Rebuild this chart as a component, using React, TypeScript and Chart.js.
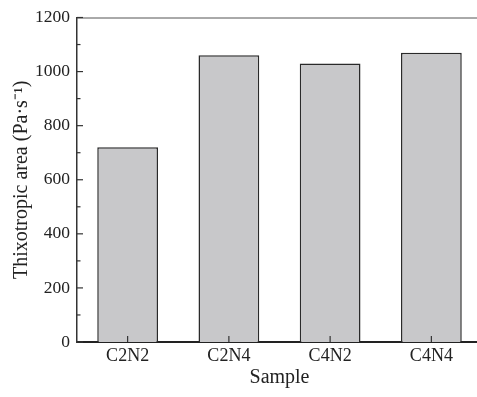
import React, { useEffect, useRef } from "react";
import { Chart, registerables } from "chart.js";

Chart.register(...registerables);

const categories = ["C2N2", "C2N4", "C4N2", "C4N4"];
const thixotropicArea = [720, 1060, 1030, 1070];
const yMin = 0;
const yMax = 1200;
const yStep = 200;

const FONT = "'Liberation Serif', 'Times New Roman', serif";

const framePlugin = {
  id: "frame",
  afterDraw(chart: any) {
    const { ctx, chartArea } = chart;
    const x = chart.scales.x;
    const y = chart.scales.y;
    ctx.save();
    ctx.strokeStyle = "#555";
    ctx.lineWidth = 1;
    ctx.beginPath();
    ctx.moveTo(chartArea.left, chartArea.top + 0.5);
    ctx.lineTo(chartArea.right, chartArea.top + 0.5);
    ctx.stroke();
    ctx.strokeStyle = "#333";
    ctx.lineWidth = 1.2;
    const ticks = y.ticks;
    for (let i = 0; i < ticks.length; i++) {
      const py = y.getPixelForValue(ticks[i].value);
      ctx.beginPath();
      ctx.moveTo(chartArea.left, py);
      ctx.lineTo(chartArea.left + 6, py);
      ctx.stroke();
      if (i < ticks.length - 1) {
        const pm = y.getPixelForValue((ticks[i].value + ticks[i + 1].value) / 2);
        ctx.beginPath();
        ctx.moveTo(chartArea.left, pm);
        ctx.lineTo(chartArea.left + 3.5, pm);
        ctx.stroke();
      }
    }
    for (let i = 0; i < categories.length; i++) {
      const px = x.getPixelForTick(i);
      ctx.beginPath();
      ctx.moveTo(px, chartArea.bottom);
      ctx.lineTo(px, chartArea.bottom - 6);
      ctx.stroke();
    }
    ctx.restore();
  },
};

export default function App() {
  const ref = useRef<HTMLCanvasElement>(null);
  useEffect(() => {
    if (!ref.current) return;
    const chart = new Chart(ref.current, {
      type: "bar",
      data: {
        labels: categories,
        datasets: [
          {
            data: thixotropicArea,
            backgroundColor: "#c8c8ca",
            borderColor: "#2a2a2a",
            borderWidth: 1.5,
            categoryPercentage: 1,
            barPercentage: 0.6,
          },
        ],
      },
      options: {
        responsive: false,
        animation: false,
        devicePixelRatio: 1,
        layout: { padding: { top: 15, right: 0, bottom: 0, left: 0 } },
        plugins: { legend: { display: false }, tooltip: { enabled: false } },
        scales: {
          x: {
            grid: { display: false, drawTicks: false },
            border: { display: true, color: "#222", width: 2 },
            ticks: {
              color: "#222",
              font: { family: FONT, size: 18 },
              padding: 3,
            },
            title: {
              display: true,
              text: "Sample",
              color: "#222",
              font: { family: FONT, size: 20 },
              padding: { top: 0, bottom: 7 },
            },
            afterFit(scale: any) {
              scale.height = 55;
            },
          },
          y: {
            min: yMin,
            max: yMax,
            grid: { display: false, drawTicks: false },
            border: { display: true, color: "#333", width: 1.5 },
            ticks: {
              stepSize: yStep,
              color: "#222",
              font: { family: FONT, size: 17.5 },
              padding: 7,
              callback: (v: any) => String(v),
            },
            title: {
              display: true,
              text: "Thixotropic area (Pa·s⁻¹)",
              color: "#222",
              font: { family: FONT, size: 20 },
              padding: { top: 10, bottom: 0 },
            },
            afterFit(scale: any) {
              scale.width = 77;
            },
          },
        },
      },
      plugins: [framePlugin],
    });
    return () => chart.destroy();
  }, []);
  return (
    <div
      style={{
        position: "fixed",
        left: 0,
        top: 0,
        width: 477,
        height: 397,
        overflow: "hidden",
        background: "#fff",
      }}
    >
      <canvas ref={ref} width={482} height={397} style={{ width: 482, height: 397 }} />
    </div>
  );
}
